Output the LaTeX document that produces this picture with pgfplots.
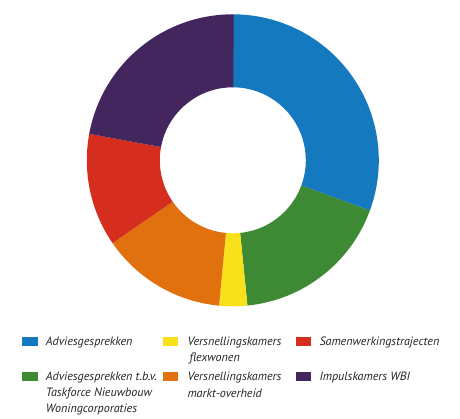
\documentclass[border=0pt]{standalone}
\usepackage{pgfplots}
\pgfplotsset{compat=1.18}
\usepackage{pgfplotstable}
\usepackage{fontspec}
\setmainfont{PT Sans}
\definecolor{col0}{RGB}{20,121,190}
\definecolor{col1}{RGB}{61,137,52}
\definecolor{col2}{RGB}{248,224,26}
\definecolor{col3}{RGB}{225,113,14}
\definecolor{col4}{RGB}{213,45,30}
\definecolor{col5}{RGB}{66,38,93}
\definecolor{txt}{RGB}{35,35,35}
\pgfplotstableread{
value
30.6
17.8
3.1
13.9
12.5
22.2
}\donutdata
\begin{document}
\begin{tikzpicture}
\begin{axis}[hide axis, scale only axis, x=1pt, y=1pt,
  xmin=0, xmax=460, ymin=0, ymax=418, clip=false]
\path (axis cs:0,0) rectangle (axis cs:460,418);
\pgfplotstablegetrowsof{\donutdata}
\pgfmathtruncatemacro\N{\pgfplotsretval-1}
\def\startang{90}
\pgfplotsforeachungrouped \i in {0,...,\N}{%
  \pgfplotstablegetelem{\i}{value}\of\donutdata
  \pgfmathsetmacro\endang{\startang-3.6*\pgfplotsretval}%
  \edef\cmd{\noexpand\fill[col\i] (axis cs:232.8,257.7) ++(\startang:146pt)
    arc[start angle=\startang, end angle=\endang, radius=146pt]
    -- ++(\endang:-73pt)
    arc[start angle=\endang, end angle=\startang, radius=73pt] -- cycle;}%
  \cmd
  \global\let\startang\endang
}
% legend
\begin{scope}[every node/.style={anchor=base west, inner sep=0pt, font=\fontsize{12.1}{14}\selectfont\itshape, text=txt}]
\fill[col0] (axis cs:22.3,81.3) rectangle (axis cs:37.7,72.3);
\node at (axis cs:45.7,73) {Adviesgesprekken};
\fill[col1] (axis cs:22.3,46.3) rectangle (axis cs:37.7,37.5);
\node at (axis cs:45.7,38) {Adviesgesprekken t.b.v.};
\node at (axis cs:45.7,21.5) {Taskforce Nieuwbouw};
\node at (axis cs:45.7,5.5) {Woningcorporaties};
\fill[col2] (axis cs:163.3,81.3) rectangle (axis cs:177.7,72.3);
\node at (axis cs:187.3,73) {Versnellingskamers};
\node at (axis cs:189.3,56.3) {flexwonen};
\fill[col3] (axis cs:163.3,46.3) rectangle (axis cs:177.7,37.5);
\node at (axis cs:187.3,37.5) {Versnellingskamers};
\node at (axis cs:187.3,20.5) {markt-overheid};
\fill[col4] (axis cs:296,81.3) rectangle (axis cs:311,72.3);
\node at (axis cs:319.3,73) {Samenwerkingstrajecten};
\fill[col5] (axis cs:296,46.3) rectangle (axis cs:311,37.5);
\node at (axis cs:319.3,38) {Impulskamers WBI};
\end{scope}
\end{axis}
\end{tikzpicture}
\end{document}
